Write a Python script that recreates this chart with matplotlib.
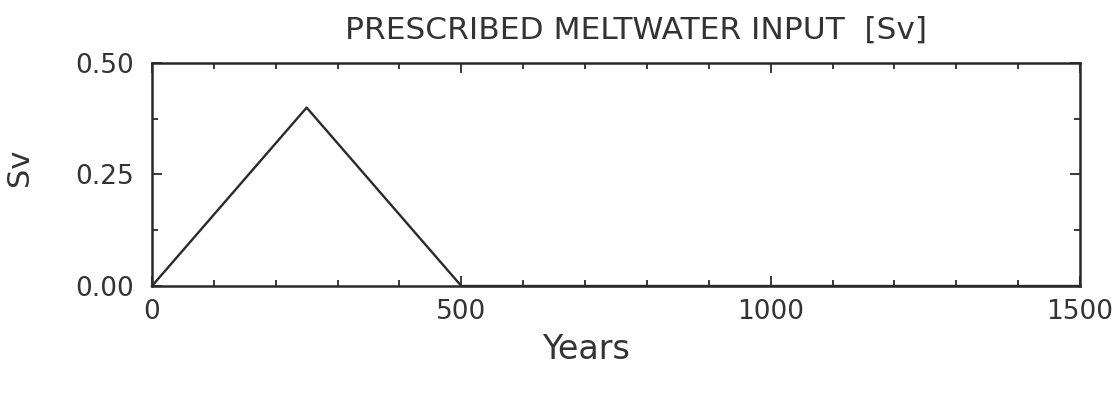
import matplotlib

matplotlib.use("Agg")
import matplotlib.pyplot as plt  # noqa: E402
from matplotlib.ticker import MultipleLocator  # noqa: E402

# meltwater forcing, triangle shape (years, Sv)
years = [0, 250, 500, 1500]
flux_sv = [0.0, 0.40, 0.0, 0.0]

x_ticks = [0, 500, 1000, 1500]
y_ticks = [0.0, 0.25, 0.5]
y_tick_labels = ["0.00", "0.25", "0.50"]

plt.rcParams["font.family"] = ["DejaVu Sans"]
ink = "#333333"

fig = plt.figure(figsize=(11.2, 3.99), dpi=100)
ax = fig.add_axes([0.1357, 0.2832, 0.8286, 0.559])

ax.plot(years, flux_sv, color="#2a2a2a", lw=1.7, clip_on=False)

ax.set_xlim(0, 1500)
ax.set_ylim(0, 0.5)
ax.set_xticks(x_ticks)
ax.set_yticks(y_ticks)
ax.set_yticklabels(y_tick_labels)
ax.xaxis.set_minor_locator(MultipleLocator(100))
ax.yaxis.set_minor_locator(MultipleLocator(0.125))
ax.tick_params(which="both", direction="in", top=True, right=True,
               color="#2a2a2a", width=1.3, labelsize=19, labelcolor=ink)
ax.tick_params(which="major", length=7)
ax.tick_params(axis="x", which="major", pad=9)
ax.tick_params(axis="y", which="major", pad=13)
ax.tick_params(which="minor", length=4)
for s in ax.spines.values():
    s.set_linewidth(1.8)
    s.set_color("#2a2a2a")

fig.text(0.568, 0.925, "PRESCRIBED MELTWATER INPUT  [Sv]", fontsize=22.5,
         color=ink, ha="center", va="center")
fig.text(0.523, 0.123, "Years", fontsize=24, color=ink, ha="center", va="center")
fig.text(0.017, 0.58, "Sv", fontsize=22, color=ink, ha="center", va="center",
         rotation=90)

fig.savefig("out.png", dpi=100)
